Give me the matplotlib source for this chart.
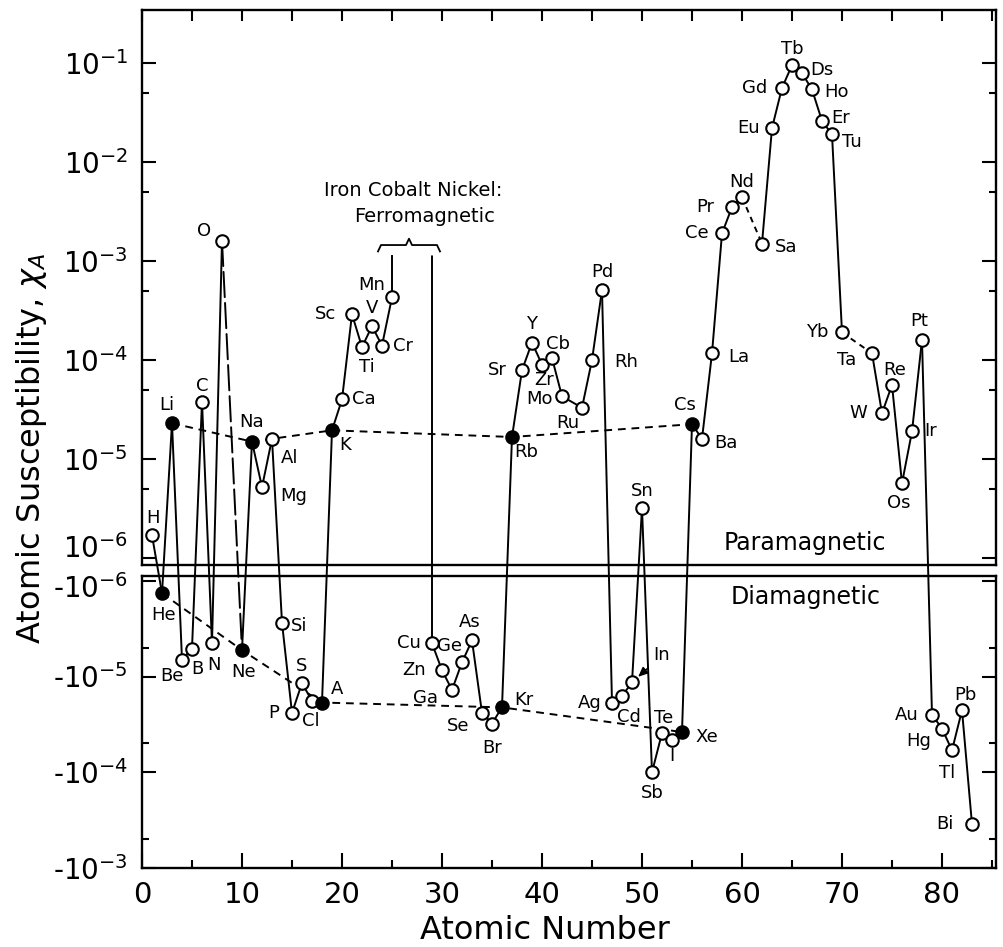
import numpy as np
import matplotlib
matplotlib.use("Agg")
import matplotlib.pyplot as plt
from matplotlib.patches import ConnectionPatch
from matplotlib.transforms import ScaledTranslation
from matplotlib.ticker import FixedLocator, FuncFormatter, NullFormatter, NullLocator

# ---------------- data ----------------
atomic_number = [1, 2, 3, 4, 5, 6, 7, 8, 10, 11, 12, 13, 14, 15, 16, 17, 18, 19, 20, 21,
                 22, 23, 24, 25, 29, 30, 31, 32, 33, 34, 35, 36, 37, 38, 39, 40, 41, 42,
                 44, 45, 46, 47, 48, 49, 50, 51, 52, 53, 54, 55, 56, 57, 58, 59, 60, 62,
                 63, 64, 65, 66, 67, 68, 69, 70, 73, 74, 75, 76, 77, 78, 79, 80, 81, 82, 83]
symbols = ['H', 'He', 'Li', 'Be', 'B', 'C', 'N', 'O', 'Ne', 'Na', 'Mg', 'Al', 'Si', 'P',
           'S', 'Cl', 'A', 'K', 'Ca', 'Sc', 'Ti', 'V', 'Cr', 'Mn', 'Cu', 'Zn', 'Ga', 'Ge',
           'As', 'Se', 'Br', 'Kr', 'Rb', 'Sr', 'Y', 'Zr', 'Cb', 'Mo', 'Ru', 'Rh', 'Pd',
           'Ag', 'Cd', 'In', 'Sn', 'Sb', 'Te', 'I', 'Xe', 'Cs', 'Ba', 'La', 'Ce', 'Pr',
           'Nd', 'Sa', 'Eu', 'Gd', 'Tb', 'Ds', 'Ho', 'Er', 'Tu', 'Yb', 'Ta', 'W', 'Re',
           'Os', 'Ir', 'Pt', 'Au', 'Hg', 'Tl', 'Pb', 'Bi']
susceptibility = [1.7e-6, -1.35e-6, 2.3e-5, -6.7e-6, -5.1e-6, 3.8e-5, -4.5e-6, 1.6e-3,
                  -5.3e-6, 1.5e-5, 5.2e-6, 1.6e-5, -2.75e-6, -2.4e-5, -1.17e-5, -1.8e-5,
                  -1.87e-5, 1.95e-5, 4.0e-5, 2.9e-4, 1.35e-4, 2.2e-4, 1.4e-4, 4.3e-4,
                  -4.5e-6, -8.6e-6, -1.38e-5, -7.1e-6, -4.2e-6, -2.4e-5, -3.1e-5, -2.1e-5,
                  1.67e-5, 7.9e-5, 1.5e-4, 9.0e-5, 1.05e-4, 4.3e-5, 3.3e-5, 1.0e-4, 5.1e-4,
                  -1.87e-5, -1.6e-5, -1.15e-5, 3.2e-6, -1.0e-4, -3.9e-5, -4.6e-5, -3.8e-5,
                  2.25e-5, 1.6e-5, 1.17e-4, 1.9e-3, 3.5e-3, 4.4e-3, 1.5e-3, 2.2e-2, 5.6e-2,
                  9.5e-2, 7.9e-2, 5.4e-2, 2.6e-2, 1.9e-2, 1.9e-4, 1.17e-4, 2.9e-5, 5.6e-5,
                  5.7e-6, 1.9e-5, 1.6e-4, -2.5e-5, -3.5e-5, -5.9e-5, -2.25e-5, -3.5e-4]
alkali_metals = ['Li', 'Na', 'K', 'Rb', 'Cs']
noble_gases = ['He', 'Ne', 'A', 'Kr', 'Xe']
ferro_cut = 1.12e-3          # where the lines toward Fe/Co/Ni leave the scale

y_ticks_para = [1e-6, 1e-5, 1e-4, 1e-3, 1e-2, 1e-1]
y_ticks_dia = [1e-6, 1e-5, 1e-4, 1e-3]
x_ticks = [0, 10, 20, 30, 40, 50, 60, 70, 80]

# ---------------- styling / layout ----------------
W, H = 1004, 947
LW = 1.4
short_dash = (0, (4, 3))
long_dash = (0, (13, 3))
dashed_links = {('O', 'Ne'): long_dash, ('Nd', 'Sa'): (0, (3, 2.5)),
                ('Yb', 'Ta'): (0, (3, 2.5))}
breaks = {('Mn', 'Cu')}

# label offsets in pixels (dx right, dy down)
label_off = {
    'H': (1, -17), 'He': (2, 22), 'Li': (-5, -18), 'Be': (-10, 16), 'B': (5, 20),
    'C': (0, -16), 'N': (2, 22), 'O': (-18, -10), 'Ne': (2, 22), 'Na': (0, -20),
    'Mg': (32, 9), 'Al': (18, 19), 'Si': (17, 3), 'P': (-18, 0), 'S': (0, -17),
    'Cl': (-1, 20), 'A': (15, -14), 'K': (13, 15), 'Ca': (22, 0), 'Sc': (-26, 0),
    'Ti': (5, 20), 'V': (0, -18), 'Cr': (21, 0), 'Mn': (-20, -12), 'Cu': (-23, 0),
    'Zn': (-28, 0), 'Ga': (-26, 8), 'Ge': (-12, -16), 'As': (-2, -18), 'Se': (-24, 13),
    'Br': (0, 24), 'Kr': (22, -7), 'Rb': (14, 15), 'Sr': (-25, 0), 'Y': (0, -19),
    'Zr': (2, 15), 'Cb': (6, -14), 'Mo': (-22, 3), 'Ru': (-14, 15), 'Rh': (34, 2),
    'Pd': (0, -18), 'Ag': (-22, 0), 'Cd': (7, 21), 'In': (30, -27), 'Sn': (0, -17),
    'Sb': (0, 21), 'Te': (2, -15), 'I': (0, 16), 'Xe': (25, 5), 'Cs': (-7, -19),
    'Ba': (24, 4), 'La': (27, 4), 'Ce': (-25, 0), 'Pr': (-27, 0), 'Nd': (0, -15),
    'Sa': (24, 3), 'Eu': (-23, 0), 'Gd': (-27, 0), 'Tb': (0, -16), 'Ds': (20, -3),
    'Ho': (25, 3), 'Er': (19, -3), 'Tu': (20, 8), 'Yb': (-25, 0), 'Ta': (-25, 7),
    'W': (-24, 0), 'Re': (3, -15), 'Os': (-3, 20), 'Ir': (19, 0), 'Pt': (-3, -19),
    'Au': (-25, 0), 'Hg': (-23, 12), 'Tl': (-5, 23), 'Pb': (3, -15), 'Bi': (-27, 0),
}

plt.rcParams['font.family'] = ['DejaVu Sans']
plt.rcParams['mathtext.fontset'] = 'dejavusans'

fig = plt.figure(figsize=(W / 100, H / 100), dpi=100)
fig.patch.set_facecolor('white')


def px_axes(l, t, r, b):
    return [l / W, 1 - b / H, (r - l) / W, (b - t) / H]


ax_top = fig.add_axes(px_axes(142, 10, 996, 565))
ax_bot = fig.add_axes(px_axes(142, 576, 996, 868))

for ax in (ax_top, ax_bot):
    ax.set_facecolor('none')
    ax.set_xlim(0, 85.4)
    ax.set_yscale('log')
    for sp in ax.spines.values():
        sp.set_linewidth(1.7)

ax_top.set_ylim(10 ** -6.07, 10 ** -0.465)
ax_bot.set_ylim(10 ** -3.0, 10 ** -6.05)   # inverted: larger |chi| lower

# ticks: top panel
ax_top.yaxis.set_major_locator(FixedLocator(y_ticks_para))
ax_top.yaxis.set_minor_locator(FixedLocator([5 * t for t in y_ticks_para[:-1]]))
ax_top.yaxis.set_major_formatter(FuncFormatter(lambda v, p: r'$10^{%d}$' % round(np.log10(v))))
ax_top.yaxis.set_minor_formatter(NullFormatter())
ax_top.tick_params(axis='y', which='both', direction='in', left=True, right=True,
                   labelsize=20, pad=10, width=1.5)
ax_top.tick_params(axis='y', which='major', length=10)
ax_top.tick_params(axis='y', which='minor', length=5)
ax_top.xaxis.set_major_locator(FixedLocator(np.arange(0, 86, 5)))
ax_top.xaxis.set_minor_locator(NullLocator())
ax_top.tick_params(axis='x', which='both', direction='in', bottom=False, top=True,
                   labelbottom=False, length=8, width=1.5)

# ticks: bottom panel
ax_bot.yaxis.set_major_locator(FixedLocator(y_ticks_dia))
ax_bot.yaxis.set_minor_locator(FixedLocator([5 * t for t in y_ticks_dia[:-1]]))
ax_bot.yaxis.set_major_formatter(FuncFormatter(lambda v, p: r'-$10^{%d}$' % round(np.log10(v))))
ax_bot.yaxis.set_minor_formatter(NullFormatter())
ax_bot.tick_params(axis='y', which='both', direction='in', left=True, right=True,
                   labelsize=20, pad=10, width=1.5)
ax_bot.tick_params(axis='y', which='major', length=10)
ax_bot.tick_params(axis='y', which='minor', length=5)
ax_bot.xaxis.set_major_locator(FixedLocator(x_ticks))
ax_bot.xaxis.set_minor_locator(FixedLocator([t + 5 for t in x_ticks]))
ax_bot.tick_params(axis='x', which='both', direction='in', top=False, bottom=True,
                   labelsize=21, pad=9, width=1.5)
ax_bot.tick_params(axis='x', which='major', length=11)
ax_bot.tick_params(axis='x', which='minor', length=6)

# nudge the two 10^-6 labels apart, as in the original
t_top = ax_top.yaxis.get_major_ticks()[0]
t_top.label1.set_transform(t_top.label1.get_transform()
                           + ScaledTranslation(0, 0.12, fig.dpi_scale_trans))
t_bot = ax_bot.yaxis.get_major_ticks()[0]
t_bot.label1.set_transform(t_bot.label1.get_transform()
                           + ScaledTranslation(0, -0.05, fig.dpi_scale_trans))

# ---------------- marks ----------------
z = dict(zip(symbols, atomic_number))
val = dict(zip(symbols, susceptibility))


def panel(s):
    return ax_top if val[s] > 0 else ax_bot


def connect(s1, s2, ls='-'):
    a1, a2 = panel(s1), panel(s2)
    p1 = (z[s1], abs(val[s1]))
    p2 = (z[s2], abs(val[s2]))
    if a1 is a2:
        a1.plot([p1[0], p2[0]], [p1[1], p2[1]], color='k', lw=LW, ls=ls, zorder=2,
                clip_on=False)
    else:
        con = ConnectionPatch(xyA=p1, coordsA=a1.transData, xyB=p2, coordsB=a2.transData,
                              color='k', lw=LW, linestyle=ls, zorder=-1)
        fig.add_artist(con)


for s1, s2 in zip(symbols[:-1], symbols[1:]):
    if (s1, s2) in breaks:
        continue
    connect(s1, s2, dashed_links.get((s1, s2), '-'))

# lines running off toward the ferromagnetic Fe, Co, Ni
ax_top.plot([z['Mn'], z['Mn']], [val['Mn'], ferro_cut], color='k', lw=LW, zorder=2)
fig.add_artist(ConnectionPatch(xyA=(z['Cu'], ferro_cut), coordsA=ax_top.transData,
                               xyB=(z['Cu'], abs(val['Cu'])), coordsB=ax_bot.transData,
                               color='k', lw=LW, zorder=-1))

# brace over the ferromagnetic gap
a, b = z['Mn'] - 1.4, z['Cu'] + 0.8
m = (a + b) / 2
ax_top.plot([a, a + 0.3, m - 0.3, m, m + 0.3, b - 0.3, b],
            [1.25e-3, 1.45e-3, 1.45e-3, 1.68e-3, 1.45e-3, 1.45e-3, 1.25e-3],
            color='k', lw=1.3, zorder=2)

# dashed lines through alkali metals and noble gases
ax_top.plot([z[s] for s in alkali_metals], [val[s] for s in alkali_metals],
            color='k', lw=LW, ls=short_dash, zorder=3)
ax_bot.plot([z[s] for s in noble_gases], [abs(val[s]) for s in noble_gases],
            color='k', lw=LW, ls=short_dash, zorder=3)

# circles
for s in symbols:
    filled = s in alkali_metals or s in noble_gases
    panel(s).plot([z[s]], [abs(val[s])], marker='o', ms=9, mew=1.5, mec='k',
                  mfc='k' if filled else 'white', ls='none', zorder=5, clip_on=False)

# element labels
for s in symbols:
    dx, dy = label_off[s]
    kw = {}
    if s == 'In':
        kw['arrowprops'] = dict(arrowstyle='-|>,head_length=0.45,head_width=0.2',
                                color='k', lw=1.0, shrinkA=3, shrinkB=6)
    panel(s).annotate(s, (z[s], abs(val[s])), xytext=(dx * 0.72, -dy * 0.72),
                      textcoords='offset points', ha='center', va='center',
                      fontsize=13, zorder=6, annotation_clip=False, **kw)

# ---------------- texts ----------------
ax_top.text(0.776, 0.04, 'Paramagnetic', transform=ax_top.transAxes, ha='center',
            va='center', fontsize=17)
ax_bot.text(0.777, 0.928, 'Diamagnetic', transform=ax_bot.transAxes, ha='center',
            va='center', fontsize=17)
fig.text(413 / W, 1 - 191 / H, 'Iron Cobalt Nickel:', ha='center', va='center', fontsize=14)
fig.text(425 / W, 1 - 217 / H, 'Ferromagnetic', ha='center', va='center', fontsize=14)
fig.text(32 / W, 1 - 448 / H, r'Atomic Susceptibility, $\chi_A$', rotation=90,
         ha='center', va='center', fontsize=23)
fig.text(545 / W, 1 - 930 / H, 'Atomic Number', ha='center', va='center', fontsize=23)

fig.savefig('out.png', dpi=100)
